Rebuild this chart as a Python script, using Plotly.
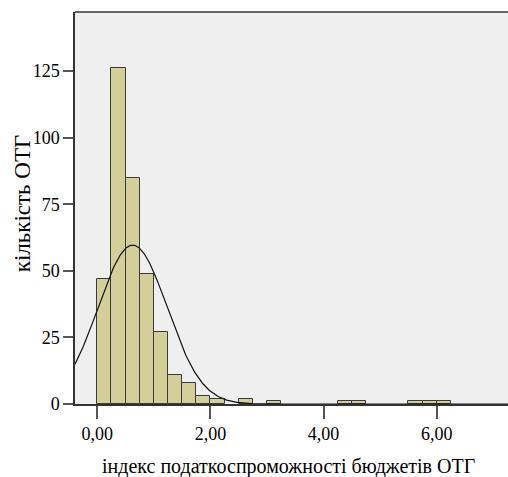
import numpy as np
import plotly.graph_objects as go

# Histogram data (bin width 0.25)
bin_starts = [0.00, 0.25, 0.50, 0.75, 1.00, 1.25, 1.50, 1.75, 2.00, 2.50, 3.00, 4.25, 4.50, 5.50, 5.75, 6.00]
counts     = [47,   126,  85,   49,   27,   11,   8,    3,    2,    2,    1,    1,    1,    1,    1,    1]
bin_width = 0.25

# Normal curve parameters (as drawn by SPSS)
curve_mean = 0.625
curve_sd = 0.612

x_tick_vals = [0, 2, 4, 6]
x_tick_text = ["0,00", "2,00", "4,00", "6,00"]
y_tick_vals = [0, 25, 50, 75, 100, 125]
y_tick_text = ["0", "25", "50", "75", "100", "125"]

x_title = "індекс податкоспроможності бюджетів ОТГ"
y_title = "кількість ОТГ"

x_range = [-0.394, 7.26]
y_range = [0, 147.2]

n_total = sum(counts)
centers = [s + bin_width / 2 for s in bin_starts]

fig = go.Figure()
fig.add_trace(go.Bar(
    x=centers, y=counts, width=bin_width,
    marker=dict(color="#d3cf98", line=dict(color="#3a3a3a", width=1)),
    showlegend=False, hoverinfo="x+y",
))

xs = np.linspace(x_range[0], x_range[1], 600)
ys = n_total * bin_width / (curve_sd * np.sqrt(2 * np.pi)) * np.exp(-0.5 * ((xs - curve_mean) / curve_sd) ** 2)
fig.add_trace(go.Scatter(x=xs, y=ys, mode="lines", line=dict(color="#111111", width=1.2),
                         showlegend=False, hoverinfo="skip"))

font_family = "'Liberation Serif', 'DejaVu Serif', serif"

fig.update_layout(
    width=508, height=477,
    margin=dict(l=75, r=0, t=12, b=73),
    paper_bgcolor="white",
    plot_bgcolor="#efefef",
    font=dict(family=font_family, size=18, color="black"),
    bargap=0,
    xaxis=dict(
        range=x_range, tickvals=x_tick_vals, ticktext=x_tick_text,
        showgrid=False, zeroline=False,
        showline=True, linecolor="#333333", linewidth=1.5,
        ticks="outside", ticklen=13, tickcolor="#555555", tickwidth=1.5,
        tickfont=dict(family=font_family, size=18, color="black"),
    ),
    yaxis=dict(
        range=y_range, tickvals=y_tick_vals, ticktext=y_tick_text,
        showgrid=False, zeroline=False,
        showline=True, linecolor="#333333", linewidth=1.5,
        ticks="outside", ticklen=10, tickcolor="#555555", tickwidth=1.5,
        tickfont=dict(family=font_family, size=18, color="black"),
    ),
    shapes=[dict(type="line", xref="paper", yref="paper", x0=0, x1=1, y0=1, y1=1,
                 line=dict(color="#333333", width=1.5))],
    annotations=[
        dict(text=x_title, xref="paper", yref="paper", x=0.494, y=-0.16,
             xanchor="center", yanchor="middle", showarrow=False,
             font=dict(family=font_family, size=20, color="black")),
        dict(text=y_title, xref="paper", yref="paper", x=-0.1224, y=0.512,
             xanchor="center", yanchor="middle", showarrow=False, textangle=-90,
             font=dict(family=font_family, size=23, color="black")),
    ],
)

fig.write_html("out.html")
